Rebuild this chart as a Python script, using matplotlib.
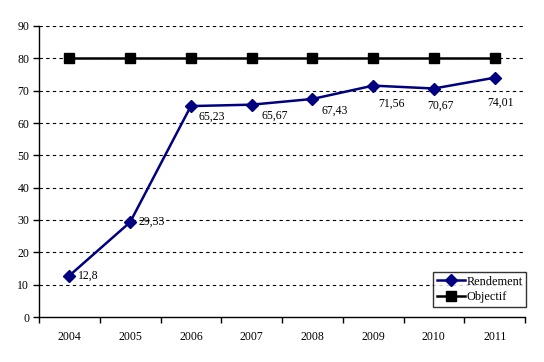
import matplotlib
matplotlib.use("Agg")
import matplotlib.pyplot as plt

years = ["2004", "2005", "2006", "2007", "2008", "2009", "2010", "2011"]
rendement = [12.8, 29.33, 65.23, 65.67, 67.43, 71.56, 70.67, 74.01]
objectif = [80, 80, 80, 80, 80, 80, 80, 80]
labels = ["12,8", "29,33", "65,23", "65,67", "67,43", "71,56", "70,67", "74,01"]
offsets = [(9, 0), (8, 0), (8, -11), (10, -11), (9, -12), (5, -18), (-7, -17), (-7, -25)]

plt.rcParams['font.family'] = ['Liberation Serif', 'DejaVu Serif']
fig = plt.figure(figsize=(5.44, 3.62), dpi=100)
ax = fig.add_axes([39/544, 1-317/362, (525-39)/544, (317-26)/362])

x = list(range(len(years)))
ax.plot(x, rendement, color='#000080', lw=1.8, marker='D', ms=6.5, label='Rendement', zorder=3)
ax.plot(x, objectif, color='black', lw=1.8, marker='s', ms=7, label='Objectif', zorder=3)

for xi, yi, lab, (dx, dy) in zip(x, rendement, labels, offsets):
    ax.annotate(lab, (xi, yi), xytext=(dx, dy), textcoords='offset pixels',
                ha='left', va='center', fontsize=8.5, color='black')

ax.set_xlim(-0.5, len(years) - 0.5)
ax.set_ylim(0, 90)
ax.set_yticks(range(0, 91, 10))
ax.set_xticks(x)
ax.set_xticklabels(years)
ax.set_xticks([i - 0.5 for i in range(len(years) + 1)], minor=True)
ax.tick_params(axis='x', which='major', length=0, pad=10, labelsize=8.5)
ax.tick_params(axis='x', which='minor', length=4, direction='out', width=1)
ax.tick_params(axis='y', length=4, direction='out', width=1, labelsize=8.5, pad=3)
for y in range(10, 91, 10):
    ax.axhline(y, color='black', lw=0.8, ls=(0, (3, 3)), zorder=1)
ax.spines['top'].set_visible(False)
ax.spines['right'].set_visible(False)
ax.spines['left'].set_linewidth(1)
ax.spines['bottom'].set_linewidth(1)

leg = ax.legend(loc='lower right', bbox_to_anchor=(526/544, 1-307/362), bbox_transform=fig.transFigure,
                frameon=True, fancybox=False, edgecolor='black', fontsize=8.8,
                borderpad=0.3, labelspacing=0.3, handlelength=2.3, handletextpad=0.1, borderaxespad=0)
leg.get_frame().set_linewidth(1)

fig.savefig('out.png', dpi=100)
